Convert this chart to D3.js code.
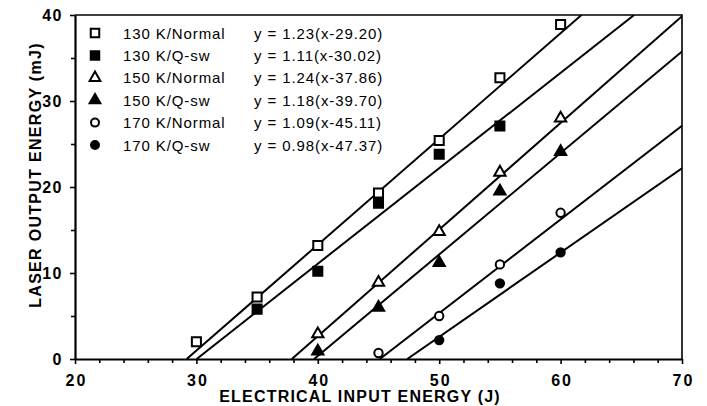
<!DOCTYPE html>
<html>
<head>
<meta charset="utf-8">
<script src="https://cdn.jsdelivr.net/npm/d3@7"></script>
<style>
  body { margin: 0; background: #fff; }
  svg text { font-family: "Liberation Sans", Arial, Helvetica, sans-serif; fill: #000; }
</style>
</head>
<body>
<div id="chart"></div>
<script>
// series names, fit equations (as printed) and fit parameters
var seriesNames = ['130 K/Normal', '130 K/Q-sw', '150 K/Normal', '150 K/Q-sw', '170 K/Normal', '170 K/Q-sw'];
var equations = ['y = 1.23(x-29.20)', 'y = 1.11(x-30.02)', 'y = 1.24(x-37.86)', 'y = 1.18(x-39.70)', 'y = 1.09(x-45.11)', 'y = 0.98(x-47.37)'];
var slopes = [1.23, 1.11, 1.24, 1.18, 1.09, 0.98];
var thresholds = [29.20, 30.02, 37.86, 39.70, 45.11, 47.37];
var symbols = ['square', 'square', 'triangle', 'triangle', 'circle', 'circle'];
var filled = [false, true, false, true, false, true];

// measured points (electrical input J, laser output mJ)
var input130Normal = [30, 35, 40, 45, 50, 55, 60];
var output130Normal = [2.0, 7.2, 13.2, 19.3, 25.4, 32.7, 38.9];
var input130Qsw = [35, 40, 45, 50, 55];
var output130Qsw = [5.8, 10.2, 18.1, 23.8, 27.1];
var input150Normal = [40, 45, 50, 55, 60];
var output150Normal = [2.9, 8.9, 14.8, 21.7, 28.0];
var input150Qsw = [40, 45, 50, 55, 60];
var output150Qsw = [0.9, 6.0, 11.2, 19.5, 24.1];
var input170Normal = [45, 50, 55, 60];
var output170Normal = [0.7, 5.0, 11.0, 17.0];
var input170Qsw = [50, 55, 60];
var output170Qsw = [2.2, 8.8, 12.4];

var xTicks = [20, 30, 40, 50, 60, 70];
var xMinor = [22, 24, 26, 28, 32, 34, 36, 38, 42, 44, 46, 48, 52, 54, 56, 58, 62, 64, 66, 68];
var yTicks = [0, 10, 20, 30, 40];
var yMinor = [5, 15, 25, 35];

var inputs = [input130Normal, input130Qsw, input150Normal, input150Qsw, input170Normal, input170Qsw];
var outputs = [output130Normal, output130Qsw, output150Normal, output150Qsw, output170Normal, output170Qsw];

var width = 707, height = 406;
var plotL = 75, plotR = 682, plotT = 15, plotB = 359;

var svg = d3.select('#chart').append('svg')
	.attr('width', width)
	.attr('height', height);

var x = d3.scaleLinear().domain([20, 70]).range([plotL, plotR]);
var y = d3.scaleLinear().domain([0, 40]).range([plotB, plotT]);

svg.append('clipPath').attr('id', 'plot-clip')
	.append('rect').attr('x', plotL).attr('y', plotT).attr('width', plotR - plotL).attr('height', plotB - plotT);

// frame (top and right)
svg.append('path')
	.attr('d', `M${plotL},${plotT}H${plotR}V${plotB}`)
	.attr('fill', 'none').attr('stroke', '#000').attr('stroke-width', 1.6);

// x axis
var xMinorAxis = svg.append('g').attr('transform', `translate(0,${plotB})`)
	.call(d3.axisBottom(x).tickValues(xMinor).tickSize(4).tickFormat(''));
xMinorAxis.select('.domain').remove();
var xAxis = svg.append('g').attr('transform', `translate(0,${plotB})`)
	.call(d3.axisBottom(x).tickValues(xTicks).tickSize(5).tickSizeOuter(0).tickPadding(11));
xAxis.select('.domain').attr('stroke-width', 2.2);
xAxis.selectAll('text')
	.attr('font-size', 16).attr('font-weight', 'bold')
	.style('letter-spacing', '2px').attr('dx', 1);

// y axis
var yMinorAxis = svg.append('g').attr('transform', `translate(${plotL},0)`)
	.call(d3.axisLeft(y).tickValues(yMinor).tickSize(4).tickFormat(''));
yMinorAxis.select('.domain').remove();
var yAxis = svg.append('g').attr('transform', `translate(${plotL},0)`)
	.call(d3.axisLeft(y).tickValues(yTicks).tickSize(5).tickSizeOuter(0).tickPadding(7));
yAxis.select('.domain').attr('stroke-width', 2.2);
yAxis.selectAll('text')
	.attr('font-size', 16).attr('font-weight', 'bold')
	.style('letter-spacing', '1.5px');
svg.selectAll('.tick line').attr('stroke-width', 1.6);
svg.selectAll('.tick text').attr('fill', '#000');

// axis titles
svg.append('text')
	.attr('x', 360).attr('y', 402)
	.attr('text-anchor', 'middle')
	.attr('font-size', 16).attr('font-weight', 'bold')
	.style('letter-spacing', '1.2px')
	.text('ELECTRICAL INPUT ENERGY (J)');

svg.append('text')
	.attr('transform', 'translate(41,175) rotate(-90)')
	.attr('text-anchor', 'middle')
	.attr('font-size', 16).attr('font-weight', 'bold')
	.style('letter-spacing', '1.3px')
	.text('LASER OUTPUT ENERGY (mJ)');

// fit lines, from threshold up to the frame
var fits = svg.append('g').attr('clip-path', 'url(#plot-clip)');
seriesNames.forEach(function(name, i) {
	var xEnd = Math.min(70, thresholds[i] + 40 / slopes[i]);
	var ends = [thresholds[i], xEnd];
	fits.append('path')
		.datum(ends)
		.attr('fill', 'none').attr('stroke', '#000').attr('stroke-width', 2)
		.attr('d', d3.line().x(d => x(d)).y(d => y(slopes[i] * (d - thresholds[i]))));
});

// marker drawing
function marker(sel, i, size) {
	var s = symbols[i];
	var type = s === 'square' ? d3.symbolSquare : s === 'triangle' ? d3.symbolTriangle : d3.symbolCircle;
	sel.attr('d', d3.symbol().type(type).size(size))
		.attr('fill', filled[i] ? '#000' : '#fff')
		.attr('stroke', '#000')
		.attr('stroke-width', 2);
}

var sizes = { square: 82, triangle: 55, circle: 55 };

seriesNames.forEach(function(name, i) {
	svg.append('g').selectAll('path')
		.data(inputs[i].map((v, j) => [v, outputs[i][j]]))
		.enter().append('path')
		.attr('transform', d => `translate(${x(d[0])},${y(d[1])})`)
		.call(marker, i, sizes[symbols[i]]);
});

// legend
var legend = svg.append('g');
seriesNames.forEach(function(name, i) {
	var cy = 33 + i * 22.4;
	legend.append('path')
		.attr('transform', `translate(95,${cy})`)
		.call(marker, i, symbols[i] === 'square' ? 72 : 50);
	legend.append('text')
		.attr('x', 123).attr('y', cy + 5.5)
		.attr('font-size', 15)
		.style('letter-spacing', '0.9px')
		.text(name);
	legend.append('text')
		.attr('x', 254).attr('y', cy + 5.5)
		.attr('font-size', 15)
		.style('letter-spacing', '0.9px')
		.text(equations[i]);
});
</script>
</body>
</html>
